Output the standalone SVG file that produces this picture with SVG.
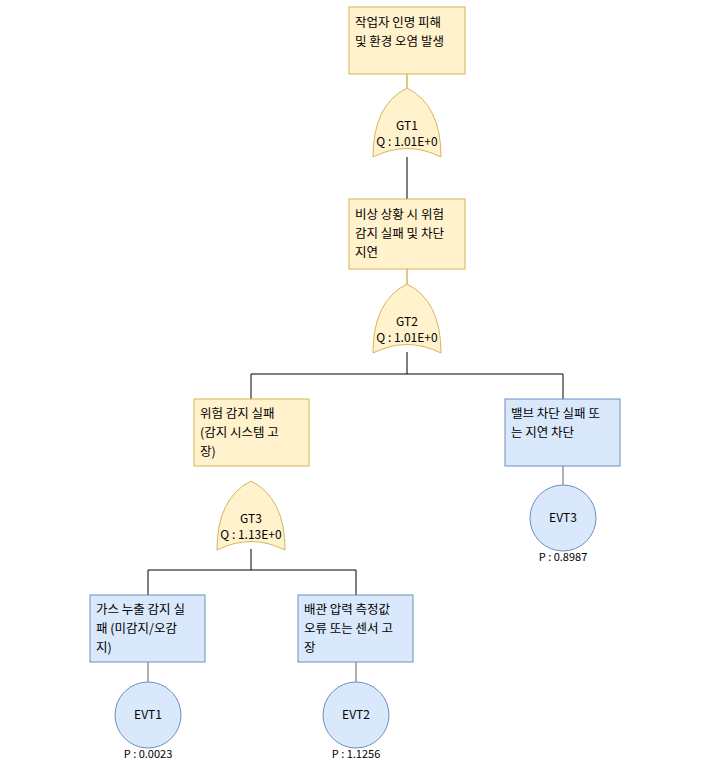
<svg xmlns="http://www.w3.org/2000/svg" width="727" height="778" viewBox="0 0 727 778">
<style>
.y{fill:#fff2cc;stroke:#d6b656;stroke-width:1}
.b{fill:#dae8fc;stroke:#6c8ebf;stroke-width:1}
text{font-family:"Noto Sans CJK KR","Noto Sans",sans-serif;font-size:12.5px;fill:#000}
.c{text-anchor:middle;font-size:12px}
.s{font-size:11px;text-anchor:middle}
</style>
<defs>
<path id="gate" d="M0,69 Q0,17 34,0 Q68,17 68,69 Q34,52 0,69 Z"/>
</defs>
<rect width="727" height="778" fill="#fff"/>
<g id="connectors" fill="none">
<path d="M407,74V88M407,269V284M148,662V682M356,662V682M563,466V485" stroke="#d6b656"/>
<path d="M407,74V88M407,269V284" stroke="#d6b656"/>
<path d="M148,662V682M356,662V682M563,466V485" stroke="#6c8ebf"/>
<path d="M407,157V199M407,352V374M251,374H563M251,374V399M563,374V399M251,549V570M148,570H356M148,570V595M356,570V595" stroke="#000"/>
</g>
<g id="top"><rect class="y" x="349" y="7" width="116" height="67"/><text x="355" y="27">작업자 인명 피해</text><text x="355" y="46">및 환경 오염 발생</text></g>
<g id="GT1"><use href="#gate" class="y" x="373" y="88"/><text class="c" x="407" y="130">GT1</text><text class="c" x="407" y="146">Q : 1.01E+0</text></g>
<g id="n2"><rect class="y" x="349" y="199" width="116" height="70"/><text x="355" y="219">비상 상황 시 위험</text><text x="355" y="238">감지 실패 및 차단</text><text x="355" y="257">지연</text></g>
<g id="GT2"><use href="#gate" class="y" x="373" y="284"/><text class="c" x="407" y="326">GT2</text><text class="c" x="407" y="342">Q : 1.01E+0</text></g>
<g id="n3"><rect class="y" x="194" y="399" width="115" height="67"/><text x="200" y="418">위험 감지 실패</text><text x="200" y="437">(감지 시스템 고</text><text x="200" y="456">장)</text></g>
<g id="n4"><rect class="b" x="505" y="399" width="115" height="67"/><text x="511" y="418">밸브 차단 실패 또</text><text x="511" y="437">는 지연 차단</text></g>
<g id="EVT3"><circle class="b" cx="563" cy="518" r="33"/><text class="c" x="563" y="522">EVT3</text><text class="s" x="563" y="561">P : 0.8987</text></g>
<g id="GT3"><use href="#gate" class="y" x="217" y="481"/><text class="c" x="251" y="523">GT3</text><text class="c" x="251" y="539">Q : 1.13E+0</text></g>
<g id="n5"><rect class="b" x="90" y="595" width="115" height="67"/><text x="96" y="614">가스 누출 감지 실</text><text x="96" y="633">패 (미감지/오감</text><text x="96" y="652">지)</text></g>
<g id="n6"><rect class="b" x="298" y="595" width="115" height="67"/><text x="304" y="614">배관 압력 측정값</text><text x="304" y="633">오류 또는 센서 고</text><text x="304" y="652">장</text></g>
<g id="EVT1"><circle class="b" cx="148" cy="715" r="33"/><text class="c" x="148" y="719">EVT1</text><text class="s" x="148" y="758">P : 0.0023</text></g>
<g id="EVT2"><circle class="b" cx="356" cy="715" r="33"/><text class="c" x="356" y="719">EVT2</text><text class="s" x="356" y="758">P : 1.1256</text></g>
</svg>
